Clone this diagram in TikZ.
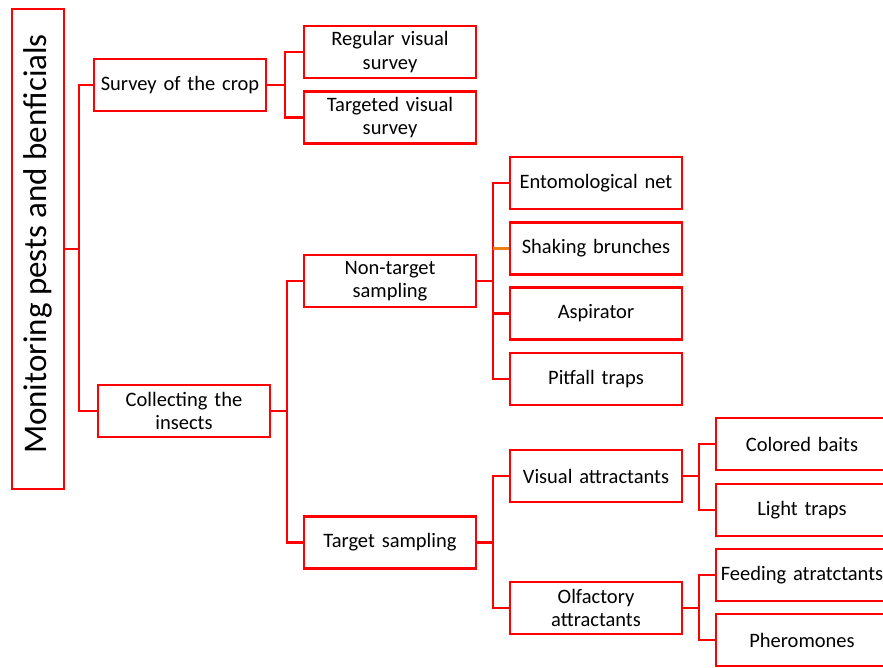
\documentclass[tikz,border=0pt]{standalone}
\usepackage{fontspec}
\setmainfont{Carlito}
\begin{document}
\begin{tikzpicture}[x=1pt,y=-1pt,
  box/.style={draw=red, line width=2.7pt, minimum width=172pt, minimum height=52pt, inner sep=0pt, align=center, text width=168pt, font=\fontsize{20.5}{23.5}\selectfont},
  conn/.style={draw=red, line width=2.7pt},
  orconn/.style={draw=orange!70!brown, line width=2.2pt}]
\useasboundingbox (0,0) rectangle (883,667);
\clip (0,0) rectangle (883,667);
\node[draw=red, line width=2.7pt, minimum width=52pt, minimum height=480pt, inner sep=0pt] (root) at (38,249) {};
\node[rotate=90, inner sep=0pt, font=\fontsize{33}{38}\selectfont] (roottext) at ([yshift=5pt]root.center) {Monitoring pests and benficials};
\node[box] (survey) at (180,85) {Survey of the crop};
\node[box] (collect) at (184,411) {Collecting the\\insects};
\node[box] (regular) at (390,52) {Regular visual\\survey};
\node[box] (targeted) at (390,117.5) {Targeted visual\\survey};
\node[box] (nontarget) at (390,281) {Non-target\\sampling};
\node[box] (target) at (390,542.5) {Target sampling};
\node[box] (ento) at (596,183) {Entomological net};
\node[box] (shake) at (596,248.5) {Shaking brunches};
\node[box] (aspir) at (596,313.5) {Aspirator};
\node[box] (pitfall) at (596,379) {Pitfall traps};
\node[box] (visual) at (596,476) {Visual attractants};
\node[box] (olf) at (596,608) {Olfactory\\attractants};
\node[box] (colored) at (802,444) {Colored baits};
\node[box] (light) at (802,510) {Light traps};
\node[box] (feeding) at (802,575) {Feeding atratctants};
\node[box] (phero) at (802,640) {Pheromones};
% connectors
\coordinate (b1) at (79,249);
\coordinate (b2) at (285,85);
\coordinate (b3) at (287,411);
\coordinate (b4) at (493,281);
\coordinate (b5) at (493,542.5);
\coordinate (b6) at (699,476);
\coordinate (b7) at (699,608);
\draw[conn] (root.east) -- (b1);
\draw[conn] (b1) |- (survey.west);
\draw[conn] (b1) |- (collect.west);
\draw[conn] (survey.east) -- (b2);
\draw[conn] (b2) |- (regular.west);
\draw[conn] (b2) |- (targeted.west);
\draw[conn] (collect.east) -- (b3);
\draw[conn] (b3) |- (nontarget.west);
\draw[conn] (b3) |- (target.west);
\draw[conn] (nontarget.east) -- (b4);
\draw[conn] (b4) |- (ento.west);
\draw[conn] (b4) |- (pitfall.west);
\draw[orconn] (b4 |- shake.west) -- (shake.west);
\draw[conn] (b4 |- aspir.west) -- (aspir.west);
\draw[conn] (target.east) -- (b5);
\draw[conn] (b5) |- (visual.west);
\draw[conn] (b5) |- (olf.west);
\draw[conn] (visual.east) -- (b6);
\draw[conn] (b6) |- (colored.west);
\draw[conn] (b6) |- (light.west);
\draw[conn] (olf.east) -- (b7);
\draw[conn] (b7) |- (feeding.west);
\draw[conn] (b7) |- (phero.west);
\end{tikzpicture}
\end{document}
